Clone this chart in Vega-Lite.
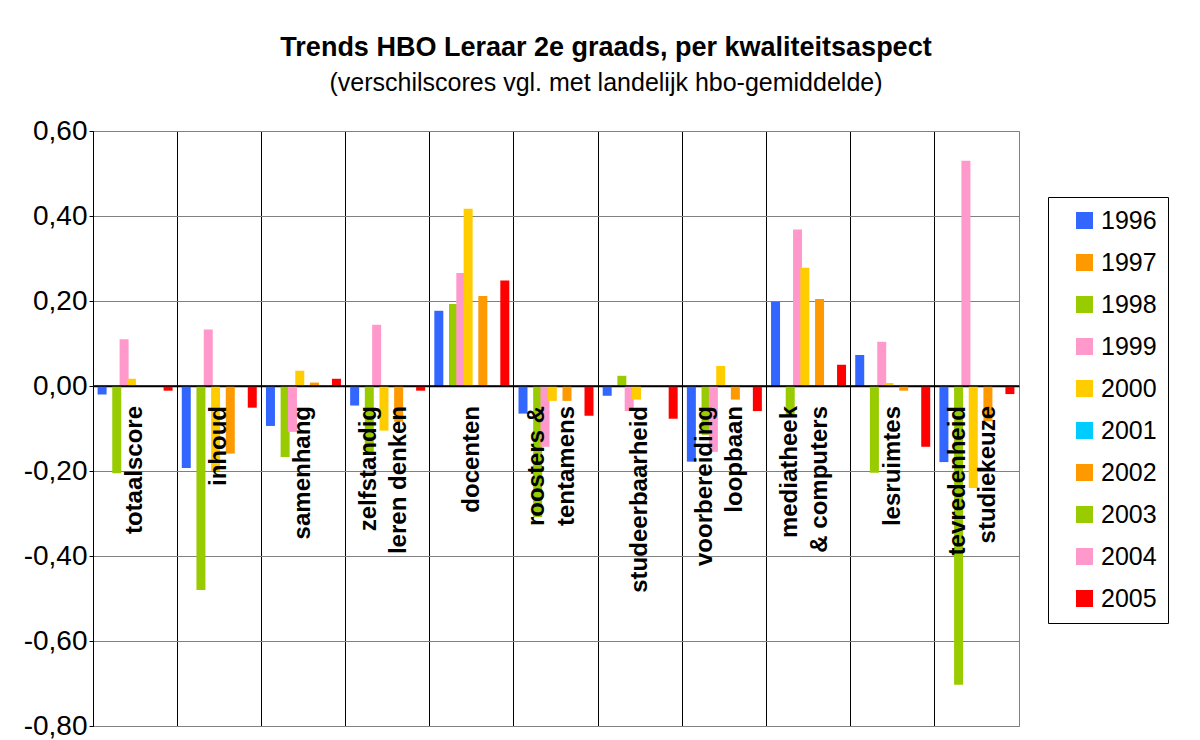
{
  "$schema": "https://vega.github.io/schema/vega-lite/v6.json",
  "width": 926,
  "height": 595,
  "autosize": "none",
  "padding": {"left": 93, "top": 131, "right": 181, "bottom": 14},
  "background": "white",
  "title": {
    "text": "Trends HBO Leraar 2e graads, per kwaliteitsaspect",
    "subtitle": "(verschilscores vgl. met landelijk hbo-gemiddelde)",
    "font": "Liberation Sans",
    "fontSize": 27,
    "fontWeight": "bold",
    "color": "black",
    "subtitleFont": "Liberation Sans",
    "subtitleFontSize": 25,
    "subtitleColor": "black",
    "subtitlePadding": 9,
    "anchor": "middle",
    "frame": "group",
    "dx": 50,
    "offset": 20
  },
  "config": {
    "locale": {"number": {"decimal": ",", "thousands": ".", "grouping": [3], "currency": ["", " €"], "minus": "-"}},
    "font": "Liberation Sans",
    "view": {"stroke": "#808080", "strokeWidth": 1}
  },
  "datasets": {
    "bars": [
      {"aspect": "totaalscore", "year": "1996", "value": -0.02},
      {"aspect": "totaalscore", "year": "1998", "value": -0.205},
      {"aspect": "totaalscore", "year": "1999", "value": 0.11},
      {"aspect": "totaalscore", "year": "2000", "value": 0.017},
      {"aspect": "totaalscore", "year": "2005", "value": -0.011},
      {"aspect": "inhoud", "year": "1996", "value": -0.193},
      {"aspect": "inhoud", "year": "1998", "value": -0.48},
      {"aspect": "inhoud", "year": "1999", "value": 0.133},
      {"aspect": "inhoud", "year": "2000", "value": -0.2},
      {"aspect": "inhoud", "year": "2002", "value": -0.159},
      {"aspect": "inhoud", "year": "2005", "value": -0.051},
      {"aspect": "samenhang", "year": "1996", "value": -0.094},
      {"aspect": "samenhang", "year": "1998", "value": -0.167},
      {"aspect": "samenhang", "year": "1999", "value": -0.108},
      {"aspect": "samenhang", "year": "2000", "value": 0.036},
      {"aspect": "samenhang", "year": "2002", "value": 0.008},
      {"aspect": "samenhang", "year": "2005", "value": 0.017},
      {"aspect": "zelfstandig leren denken", "year": "1996", "value": -0.046},
      {"aspect": "zelfstandig leren denken", "year": "1998", "value": -0.16},
      {"aspect": "zelfstandig leren denken", "year": "1999", "value": 0.144},
      {"aspect": "zelfstandig leren denken", "year": "2000", "value": -0.105},
      {"aspect": "zelfstandig leren denken", "year": "2002", "value": -0.084},
      {"aspect": "zelfstandig leren denken", "year": "2005", "value": -0.011},
      {"aspect": "docenten", "year": "1996", "value": 0.177},
      {"aspect": "docenten", "year": "1998", "value": 0.193},
      {"aspect": "docenten", "year": "1999", "value": 0.266},
      {"aspect": "docenten", "year": "2000", "value": 0.417},
      {"aspect": "docenten", "year": "2002", "value": 0.212},
      {"aspect": "docenten", "year": "2005", "value": 0.248},
      {"aspect": "roosters & tentamens", "year": "1996", "value": -0.065},
      {"aspect": "roosters & tentamens", "year": "1998", "value": -0.308},
      {"aspect": "roosters & tentamens", "year": "1999", "value": -0.143},
      {"aspect": "roosters & tentamens", "year": "2000", "value": -0.035},
      {"aspect": "roosters & tentamens", "year": "2002", "value": -0.035},
      {"aspect": "roosters & tentamens", "year": "2005", "value": -0.07},
      {"aspect": "studeerbaarheid", "year": "1996", "value": -0.023},
      {"aspect": "studeerbaarheid", "year": "1998", "value": 0.024},
      {"aspect": "studeerbaarheid", "year": "1999", "value": -0.059},
      {"aspect": "studeerbaarheid", "year": "2000", "value": -0.032},
      {"aspect": "studeerbaarheid", "year": "2005", "value": -0.077},
      {"aspect": "voorbereiding loopbaan", "year": "1996", "value": -0.178},
      {"aspect": "voorbereiding loopbaan", "year": "1998", "value": -0.115},
      {"aspect": "voorbereiding loopbaan", "year": "1999", "value": -0.155},
      {"aspect": "voorbereiding loopbaan", "year": "2000", "value": 0.047},
      {"aspect": "voorbereiding loopbaan", "year": "2002", "value": -0.032},
      {"aspect": "voorbereiding loopbaan", "year": "2005", "value": -0.059},
      {"aspect": "mediatheek & computers", "year": "1996", "value": 0.198},
      {"aspect": "mediatheek & computers", "year": "1998", "value": -0.07},
      {"aspect": "mediatheek & computers", "year": "1999", "value": 0.368},
      {"aspect": "mediatheek & computers", "year": "2000", "value": 0.278},
      {"aspect": "mediatheek & computers", "year": "2002", "value": 0.205},
      {"aspect": "mediatheek & computers", "year": "2005", "value": 0.05},
      {"aspect": "lesruimtes", "year": "1996", "value": 0.073},
      {"aspect": "lesruimtes", "year": "1998", "value": -0.204},
      {"aspect": "lesruimtes", "year": "1999", "value": 0.104},
      {"aspect": "lesruimtes", "year": "2000", "value": 0.007},
      {"aspect": "lesruimtes", "year": "2002", "value": -0.011},
      {"aspect": "lesruimtes", "year": "2005", "value": -0.143},
      {"aspect": "tevredenheid studiekeuze", "year": "1996", "value": -0.179},
      {"aspect": "tevredenheid studiekeuze", "year": "1998", "value": -0.703},
      {"aspect": "tevredenheid studiekeuze", "year": "1999", "value": 0.53},
      {"aspect": "tevredenheid studiekeuze", "year": "2000", "value": -0.24},
      {"aspect": "tevredenheid studiekeuze", "year": "2002", "value": -0.083},
      {"aspect": "tevredenheid studiekeuze", "year": "2005", "value": -0.019}
    ],
    "labels1": [
      {"aspect": "totaalscore", "label": "totaalscore"},
      {"aspect": "inhoud", "label": "inhoud"},
      {"aspect": "samenhang", "label": "samenhang"},
      {"aspect": "docenten", "label": "docenten"},
      {"aspect": "studeerbaarheid", "label": "studeerbaarheid"},
      {"aspect": "lesruimtes", "label": "lesruimtes"}
    ],
    "labels2": [
      {"aspect": "zelfstandig leren denken", "label": ["zelfstandig", "leren denken"]},
      {"aspect": "roosters & tentamens", "label": ["roosters &", "tentamens"]},
      {"aspect": "voorbereiding loopbaan", "label": ["voorbereiding", "loopbaan"]},
      {"aspect": "mediatheek & computers", "label": ["mediatheek", "& computers"]},
      {"aspect": "tevredenheid studiekeuze", "label": ["tevredenheid", "studiekeuze"]}
    ]
  },
  "layer": [
    {
      "data": {"name": "bars"},
      "mark": {"type": "bar", "width": 9},
      "encoding": {
        "x": {
          "field": "aspect", "type": "nominal", "sort": null,
          "scale": {
            "domain": ["totaalscore", "inhoud", "samenhang", "zelfstandig leren denken", "docenten", "roosters & tentamens", "studeerbaarheid", "voorbereiding loopbaan", "mediatheek & computers", "lesruimtes", "tevredenheid studiekeuze"],
            "paddingInner": 0, "paddingOuter": 0
          },
          "axis": {"grid": true, "gridColor": "black", "gridOpacity": 1, "bandPosition": 0, "labels": false, "ticks": false, "domain": false, "title": null}
        },
        "xOffset": {
          "field": "year", "type": "nominal",
          "scale": {"domain": ["1996", "1997", "1998", "1999", "2000", "2001", "2002", "2003", "2004", "2005"], "paddingInner": 0, "paddingOuter": 0.74}
        },
        "y": {
          "field": "value", "type": "quantitative",
          "scale": {"domain": [-0.8, 0.6], "nice": false, "zero": false},
          "axis": {"values": [-0.8, -0.6, -0.4, -0.2, 0, 0.2, 0.4, 0.6], "format": ".2f", "title": null, "labelFontSize": 28, "labelColor": "black", "labelFont": "Liberation Sans", "gridColor": "#808080", "gridOpacity": 1, "domainColor": "black", "tickColor": "black", "tickSize": 4, "labelPadding": 2}
        },
        "color": {
          "field": "year", "type": "nominal",
          "scale": {
            "domain": ["1996", "1997", "1998", "1999", "2000", "2001", "2002", "2003", "2004", "2005"],
            "range": ["#3366FF", "#FF9900", "#99CC00", "#FF99CC", "#FFCC00", "#00CCFF", "#FF9900", "#99CC00", "#FF99CC", "#FF0000"]
          },
          "legend": {
            "title": null, "orient": "none", "legendX": 955, "legendY": 66, "direction": "vertical",
            "labelFontSize": 25, "labelColor": "black", "labelFont": "Liberation Sans",
            "symbolType": "square", "symbolSize": 289, "symbolStrokeWidth": 0,
            "rowPadding": 16, "padding": 11, "symbolOffset": 13, "labelOffset": 4,
            "strokeColor": "black", "fillColor": "white"
          }
        }
      }
    },
    {
      "data": {"values": [{"zero": 0}]},
      "mark": {"type": "rule", "color": "black", "strokeWidth": 1.5},
      "encoding": {"y": {"field": "zero", "type": "quantitative"}}
    },
    {
      "data": {"name": "labels1"},
      "mark": {"type": "text", "angle": 270, "align": "right", "baseline": "middle", "fontSize": 24, "fontWeight": "bold", "font": "Liberation Sans", "dx": -20, "color": "black"},
      "encoding": {
        "x": {
          "field": "aspect", "type": "nominal", "sort": null,
          "axis": {"orient": "top", "grid": false, "labels": false, "ticks": true, "tickSize": -8, "tickColor": "black", "domainColor": "black", "domainWidth": 1.5, "bandPosition": 0, "offset": -255, "title": null}
        },
        "y": {"datum": 0, "type": "quantitative"},
        "text": {"field": "label"}
      }
    },
    {
      "data": {"name": "labels2"},
      "mark": {"type": "text", "angle": 270, "align": "right", "baseline": "middle", "fontSize": 24, "fontWeight": "bold", "font": "Liberation Sans", "dx": -20, "dy": -19, "lineHeight": 30, "color": "black"},
      "encoding": {
        "x": {"field": "aspect", "type": "nominal", "sort": null, "axis": null},
        "y": {"datum": 0, "type": "quantitative"},
        "text": {"field": "label"}
      }
    }
  ],
  "resolve": {"axis": {"x": "independent"}}
}
